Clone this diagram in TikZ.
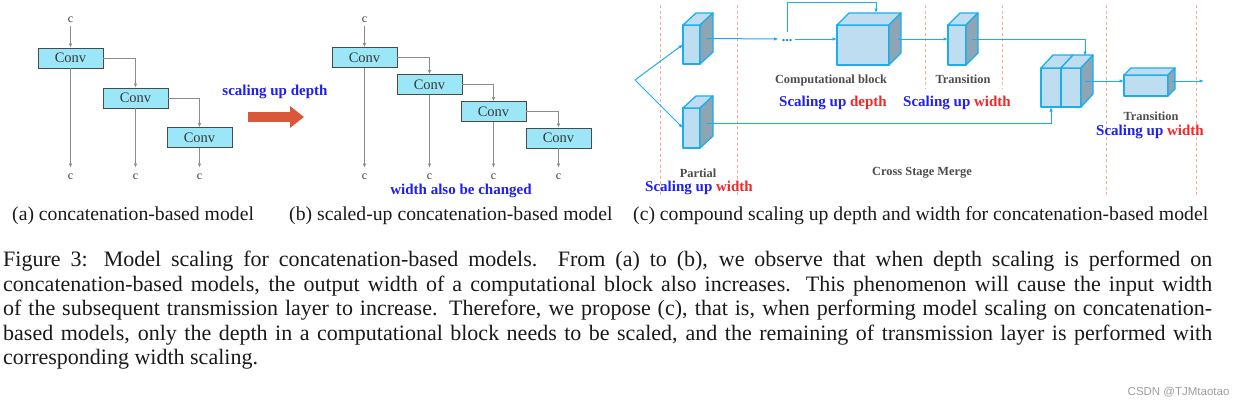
\documentclass[tikz,border=0pt]{standalone}
\usepackage{fontspec}
\setmainfont{Liberation Serif}
\newfontfamily\wmfont{Liberation Sans}
\usetikzlibrary{arrows.meta}
\definecolor{convfill}{HTML}{9BE7F8}
\definecolor{convdraw}{HTML}{4A4A4A}
\definecolor{convtext}{HTML}{3A3A3A}
\definecolor{glines}{HTML}{8C8C8C}
\definecolor{tblue}{HTML}{1E1EF5}
\definecolor{tred}{HTML}{F02828}
\definecolor{arrowred}{HTML}{D9583A}
\definecolor{cubefill}{HTML}{BEDDF0}
\definecolor{cubeside}{HTML}{8EA5B5}
\definecolor{cubeedge}{HTML}{1AAEEF}
\definecolor{dashcol}{HTML}{F5A89A}
\definecolor{labgray}{HTML}{4D4D4D}
\definecolor{captext}{HTML}{1A1A1A}
\newcommand{\cubeTop}[3]{\draw[cubeline, fill=cubefill] (#1.north west) -- ++(#2,#3) -- ([shift={(#2,#3)}]#1.north east) -- (#1.north east) -- cycle;}
\newcommand{\cubeSide}[3]{\draw[cubeline, fill=cubeside] (#1.north east) -- ++(#2,#3) -- ([shift={(#2,#3)}]#1.south east) -- (#1.south east) -- cycle;}
\tikzset{
  conv/.style={draw=convdraw, fill=convfill, line width=0.9pt, minimum width=65pt, minimum height=20pt, inner sep=0pt, text=convtext, font=\fontsize{14.5}{16}\selectfont},
  ctext/.style={text=convtext, font=\fontsize{12}{14}\selectfont},
  gline/.style={draw=glines, line width=0.7pt, -{Latex[length=4pt,width=3.5pt]}},
  bluebold/.style={text=tblue, font=\bfseries\fontsize{15}{17}\selectfont},
  scal/.style={font=\bfseries\fontsize{15}{17}\selectfont},
  glabel/.style={text=labgray, font=\bfseries\fontsize{12.4}{14}\selectfont},
  cubeline/.style={draw=cubeedge, line width=1.3pt, line join=round},
  cubefront/.style={cubeline, fill=cubefill, inner sep=0pt, outer sep=0pt},
  cl/.style={draw=cubeedge, line width=1pt, -{Latex[length=4.5pt,width=3.5pt]}},
  dashl/.style={draw=dashcol, line width=0.8pt, dash pattern=on 3pt off 2.5pt},
  subcap/.style={text=captext, font=\fontsize{19.7}{23}\selectfont, anchor=base west, inner sep=0pt},
}
\begin{document}
\begin{tikzpicture}[x=1pt,y=-1pt]
\useasboundingbox (0,0) rectangle (1242,405);
\fill[white] (0,0) rectangle (1242,405);

% ---------- (a) ----------
\node[ctext] (a0) at (70.5,20) {c};
\node[conv] (a1) at (70.5,58) {Conv};
\node[conv] (a2) at (135.5,98) {Conv};
\node[conv] (a3) at (199.5,137.5) {Conv};
\node[ctext] (ab1) at (70.5,177) {c};
\node[ctext] (ab2) at (135.5,177) {c};
\node[ctext] (ab3) at (199.5,177) {c};
\draw[gline] (a0) -- (a1);
\draw[gline] (a1.east) -| (a2.north);
\draw[gline] (a2.east) -| (a3.north);
\draw[gline, shorten >=3pt] (a1) -- (ab1);
\draw[gline, shorten >=3pt] (a2) -- (ab2);
\draw[gline, shorten >=3pt] (a3) -- (ab3);

% ---------- arrow ----------
\node[bluebold] (sud) at (275,92) {scaling up depth};
\coordinate (ra1) at (248,117);
\coordinate (ra2) at (304,117);
\draw[draw=arrowred, line width=10pt, -{Triangle[length=14pt,width=21pt]}] (ra1) -- (ra2);

% ---------- (b) ----------
\node[ctext] (b0) at (364.5,20) {c};
\node[conv] (b1) at (364.5,57.5) {Conv};
\node[conv] (b2) at (429.5,84.5) {Conv};
\node[conv] (b3) at (493.5,111.5) {Conv};
\node[conv] (b4) at (558.5,138) {Conv};
\node[ctext] (bb1) at (364.5,177) {c};
\node[ctext] (bb2) at (429.5,177) {c};
\node[ctext] (bb3) at (493.5,177) {c};
\node[ctext] (bb4) at (558.5,177) {c};
\draw[gline] (b0) -- (b1);
\draw[gline] (b1.east) -| (b2.north);
\draw[gline] (b2.east) -| (b3.north);
\draw[gline] (b3.east) -| (b4.north);
\draw[gline, shorten >=3pt] (b1) -- (bb1);
\draw[gline, shorten >=3pt] (b2) -- (bb2);
\draw[gline, shorten >=3pt] (b3) -- (bb3);
\draw[gline, shorten >=3pt] (b4) -- (bb4);
\node[bluebold] (wab) at (461,191) {width also be changed};

% ---------- (c) ----------
\draw[dashl] (660,5) -- (660,197);
\draw[dashl] (737,5) -- (737,197);
\draw[dashl] (925,5) -- (925,88);
\draw[dashl] (1002,5) -- (1002,88);
\draw[dashl] (1106,5) -- (1106,197);
\draw[dashl] (1196,5) -- (1196,195);

% cubes
\node[cubefront, minimum width=17pt, minimum height=39pt] (p1) at (691.5,44.5) {};
\cubeTop{p1}{13}{-12}\cubeSide{p1}{13}{-12}
\node[cubefront, minimum width=17pt, minimum height=40pt] (p2) at (691.5,128) {};
\cubeTop{p2}{13}{-12}\cubeSide{p2}{13}{-12}
\node[cubefront, minimum width=52pt, minimum height=40pt] (comp) at (863,45) {};
\cubeTop{comp}{12}{-12}\cubeSide{comp}{12}{-12}
\node[cubefront, minimum width=18pt, minimum height=40pt] (t1) at (957,45) {};
\cubeTop{t1}{12}{-12}\cubeSide{t1}{12}{-12}
\node[cubefront, minimum width=20pt, minimum height=39pt] (mA) at (1051,87.5) {};
\cubeTop{mA}{12}{-13}
\node[cubefront, minimum width=20pt, minimum height=39pt] (mB) at (1071,87.5) {};
\cubeTop{mB}{12}{-13}\cubeSide{mB}{12}{-13}
\node[cubefront, minimum width=44pt, minimum height=21pt] (t2) at (1146,85.5) {};
\cubeTop{t2}{7}{-7}\cubeSide{t2}{7}{-7}

% connectors
\coordinate (in) at (635,80);
\draw[cl] (in) -- (p1.west);
\draw[cl] (in) -- (p2.west);
\node[text=cubeedge!70!blue, font=\bfseries\fontsize{14}{16}\selectfont, inner sep=3pt] (dots) at (787,41) {...};
\draw[cl] ([shift={(6,-6)}]p1.east) -- (dots.west |- 0,39);
\draw[cl] (dots.east |- 0,39) -- (comp.west |- 0,39);
\coordinate (ctop) at (876,13);
\draw[cl] ([shift={(0,-5)}]dots.north) -- (dots.north |- 0,2) -| (ctop);
\draw[cl] ([shift={(9,-6)}]comp.east) -- (t1.west |- 0,39);
\coordinate (mtop) at (1085,56);
\draw[cl] ([shift={(6,-6)}]t1.east) -| (mtop);
\draw[cl] ([shift={(6,-5)}]p2.east) -| (mA.south);
\draw[cl] ([shift={(4,-6.5)}]mB.east) -- ([shift={(0,-4.5)}]t2.west);
\coordinate (out) at (1204,81);
\draw[cl] ([shift={(4,-4.5)}]t2.east) -- (out);

% labels
\node[glabel] (lcomp) at (831,81) {Computational block};
\node[scal] (scomp) at (833,103) {\textcolor{tblue}{Scaling up} \textcolor{tred}{depth}};
\node[glabel] (ltr1) at (963,79) {Transition};
\node[scal] (str1) at (957,103) {\textcolor{tblue}{Scaling up} \textcolor{tred}{width}};
\node[glabel] (lpart) at (698,173) {Partial};
\node[scal] (spart) at (699,188) {\textcolor{tblue}{Scaling up} \textcolor{tred}{width}};
\node[glabel] (lcsm) at (922,173) {Cross Stage Merge};
\node[glabel] (ltr2) at (1151,116) {Transition};
\node[scal] (str2) at (1150,132) {\textcolor{tblue}{Scaling up} \textcolor{tred}{width}};

% sub-captions
\node[subcap] (capa) at (12,220) {(a) concatenation-based model};
\node[subcap] (capb) at (289,220) {(b) scaled-up concatenation-based model};
\node[subcap] (capc) at (633,220) {(c) compound scaling up depth and width for concatenation-based model};

% caption
\node[anchor=north west, inner sep=0pt, text width=1209pt, align=justify, text=captext,
      font=\fontsize{22}{24.5}\selectfont] (cap) at (3,251)
{Figure 3: Model scaling for concatenation-based models. From (a) to (b), we observe that when depth scaling is performed on\linebreak
concatenation-based models, the output width of a computational block also increases. This phenomenon will cause the input width\linebreak
of the subsequent transmission layer to increase. Therefore, we propose (c), that is, when performing model scaling on concatenation-\linebreak
based models, only the depth in a computational block needs to be scaled, and the remaining of transmission layer is performed with\linebreak
corresponding width scaling.};

\node[anchor=east, text=gray!75, font=\wmfont\fontsize{11.5}{13}\selectfont] (wm) at (1233,392) {CSDN @TJMtaotao};
\end{tikzpicture}
\end{document}
